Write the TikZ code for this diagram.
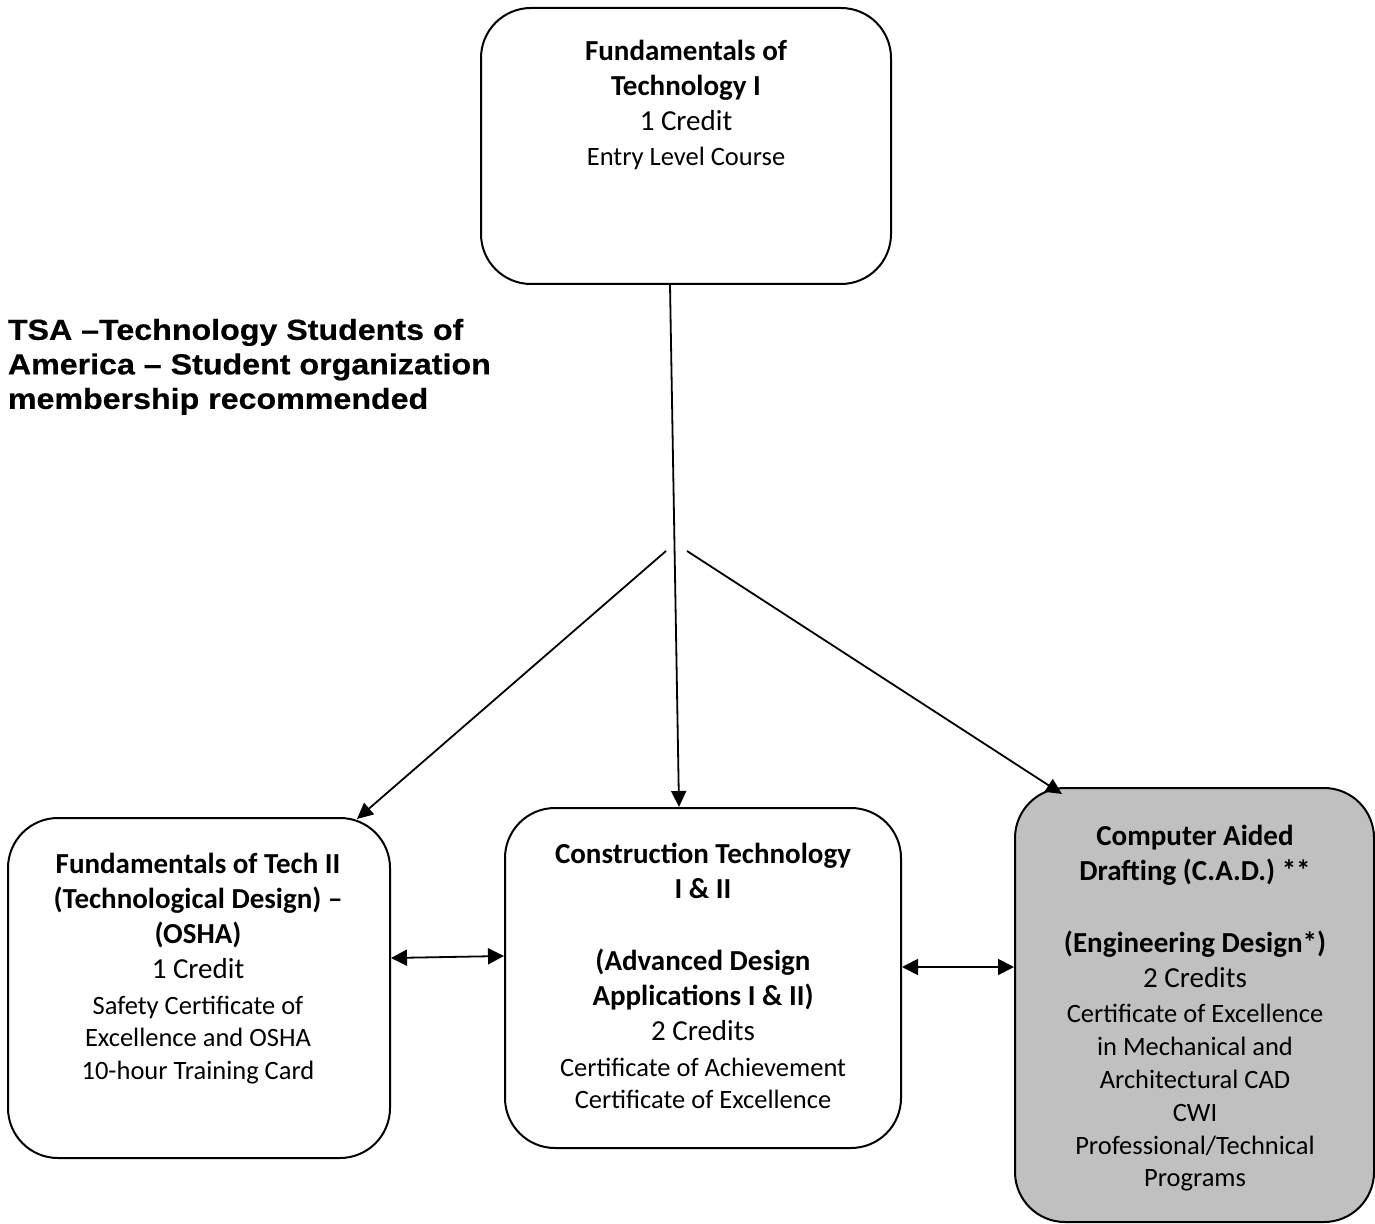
\documentclass[tikz,border=0pt]{standalone}
\usepackage{fontspec}
\setmainfont{Carlito}
\newfontfamily\tsafont[FakeStretch=1.11,FakeBold=0.5]{Liberation Sans Bold}
\usetikzlibrary{arrows.meta,calc}
\definecolor{cadgray}{RGB}{192,192,192}
\newcommand\smtxt{\normalfont\fontsize{13.25}{16.4}\selectfont}
\newcommand\bgtxt{\normalfont\fontsize{14.5}{16.4}\selectfont}
\newcommand\bdtxt{\normalfont\fontsize{14.5}{16.4}\selectfont\bfseries}
\tikzset{
  coursebox/.style={draw, line width=1pt, rounded corners=25pt, inner sep=0pt},
  lbl/.style={anchor=north, inner sep=0pt, align=center, font=\smtxt},
  arr/.style={-{Triangle[length=8pt,width=7.5pt]}, line width=0.9pt},
  dblarr/.style={{Triangle[length=8pt,width=8pt]}-{Triangle[length=8pt,width=8pt]}, line width=0.9pt}
}
\begin{document}
\begin{tikzpicture}[x=0.5pt,y=-0.5pt]
\useasboundingbox (0,0) rectangle (1375,1224);
\fill[white] (0,0) rectangle (1375,1224);

% boxes
\node[coursebox, minimum width=205pt, minimum height=138pt] (top) at (686,146) {};
\node[coursebox, minimum width=191pt, minimum height=170pt] (left) at (199,988) {};
\node[coursebox, minimum width=198pt, minimum height=170pt] (mid) at (703,978) {};
\node[coursebox, fill=cadgray, minimum width=179.5pt, minimum height=217pt] (right) at (1194.5,1005) {};

% texts
\node[lbl] (toptxt) at (686,37) {\bdtxt\strut Fundamentals of\\[1.2pt]
  \bdtxt Technology I\\[1.2pt]
  \bgtxt 1 Credit\\[1.2pt]
  \smtxt Entry Level Course};

\node[lbl] (lefttxt) at (198,850) {\bdtxt\strut Fundamentals of Tech II\\[1.2pt]
  \bdtxt (Technological Design) –\\[1.2pt]
  \bdtxt (OSHA)\\[1.2pt]
  \bgtxt 1 Credit\\[1.2pt]
  \smtxt Safety Certificate of\\
  \smtxt Excellence and OSHA\\
  \smtxt 10-hour Training Card};

\node[lbl] (midtxt) at (703,840) {\bdtxt\strut Construction Technology\\[1.2pt]
  \bdtxt I \& II\\[19.6pt]
  \bdtxt (Advanced Design\\[1.2pt]
  \bdtxt Applications I \& II)\\[1.2pt]
  \bgtxt 2 Credits\\[1.2pt]
  \smtxt Certificate of Achievement\\
  \smtxt Certificate of Excellence};

\node[lbl] (righttxt) at (1195,822) {\bdtxt\strut Computer Aided\\[1.2pt]
  \bdtxt Drafting (C.A.D.) **\\[19.6pt]
  \bdtxt (Engineering Design*)\\[1.2pt]
  \bgtxt 2 Credits\\[1.2pt]
  \smtxt Certificate of Excellence\\
  \smtxt in Mechanical and\\
  \smtxt Architectural CAD\\
  \smtxt CWI\\
  \smtxt Professional/Technical\\
  \smtxt Programs};

\node[anchor=north west, inner sep=0pt, align=left, font=\tsafont\fontsize{14.5}{17.25}\selectfont] (tsa) at (7.5,315.3)
  {\strut TSA –Technology Students of\\ America – Student organization\\ membership recommended};

% connectors
\coordinate (f1) at (666,551);
\coordinate (f2) at (687,551);
\draw[arr] (top.south -| 670,0) -- (mid.north -| 679,0);
\draw[arr] (f1) -- ($(left.north east)+(-34,2)$);
\draw[arr] (f2) -- ($(right.north west)+(48,7)$);
\draw[dblarr] (left.east |- 0,958) -- (mid.west |- 0,956);
\draw[dblarr] (mid.east |- 0,967) -- (right.west |- 0,967);
\end{tikzpicture}
\end{document}
